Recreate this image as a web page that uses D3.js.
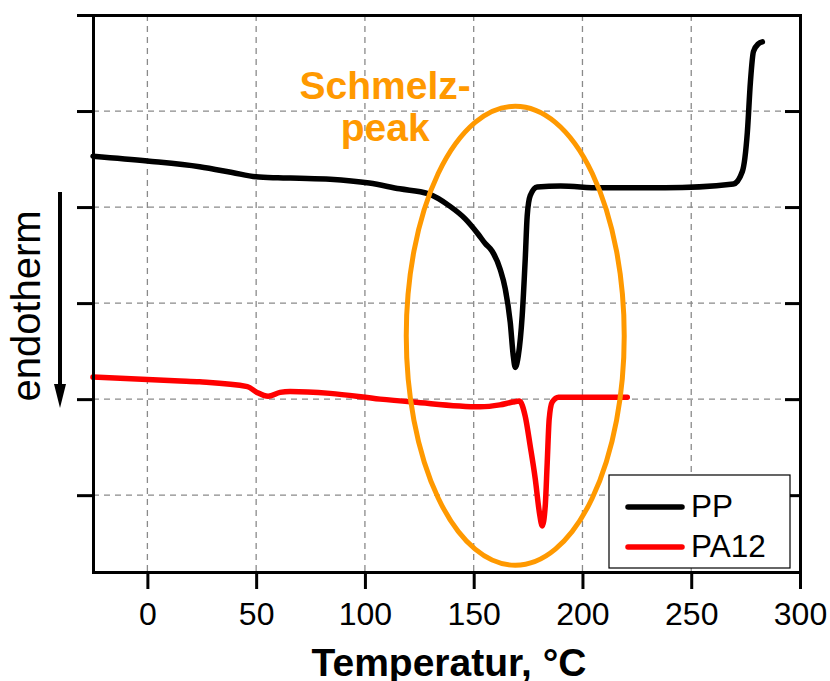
<!DOCTYPE html>
<meta charset="utf-8">
<script src="https://d3js.org/d3.v7.min.js"></script>
<style>
body { margin: 0; background: #fff; }
svg { font-family: "Liberation Sans", Arial, sans-serif; }
.grid line { stroke: #8a8a8a; stroke-width: 1.3; stroke-dasharray: 6,5; }
.axis path, .axis line { stroke: #000; stroke-width: 3; }
</style>
<body>
<script>
// PP curve (black)
var ppT = [-25, 0, 24, 39, 50, 60, 70, 84, 102, 116, 129, 139, 146, 152, 155.3, 158.5, 162.2, 164.5, 166.8, 168.2, 169.1, 170.5, 172.3, 173.7, 174.6, 176, 179.2, 190, 208, 238, 269.4, 273.5, 275.8, 277.2, 278.6, 280.9, 282.7];
var ppV = [4.53, 4.48, 4.42, 4.36, 4.315, 4.305, 4.30, 4.29, 4.25, 4.19, 4.14, 4.01, 3.88, 3.72, 3.62, 3.54, 3.35, 3.15, 2.80, 2.45, 2.33, 2.45, 2.87, 3.46, 3.91, 4.12, 4.21, 4.22, 4.20, 4.20, 4.24, 4.37, 4.78, 5.30, 5.62, 5.70, 5.72];
// PA12 curve (red)
var paT = [-25, 15, 24, 46, 50.4, 55.5, 61, 65.6, 84, 107, 122, 153, 162, 168, 171, 173.7, 176, 178.3, 180.2, 181.5, 182.9, 183.8, 184.7, 186.1, 189, 199, 220.6];
var paV = [2.23, 2.19, 2.18, 2.13, 2.07, 2.03, 2.07, 2.08, 2.06, 2.00, 1.97, 1.92, 1.94, 1.97, 1.98, 1.82, 1.51, 1.17, 0.82, 0.68, 0.89, 1.34, 1.79, 1.97, 2.02, 2.02, 2.02];

var xTicks = [0, 50, 100, 150, 200, 250, 300];
var xMinor = [-25, 25, 75, 125, 175, 225, 275];
var yTicks = [1, 2, 3, 4, 5, 6];
var yMinor = [0.5, 1.5, 2.5, 3.5, 4.5, 5.5];
var seriesNames = ["PP", "PA12"];
var seriesColors = ["#000000", "#ff0000"];

var W = 830, H = 681;
var svg = d3.select("body").append("svg").attr("width", W).attr("height", H);

var x = d3.scaleLinear().domain([-25, 300]).range([93, 800]);
var y = d3.scaleLinear().domain([0.2, 6]).range([572, 15]);

// grid
var grid = svg.append("g").attr("class", "grid");
grid.selectAll(".gx").data(xTicks.slice(0, -1)).enter().append("line")
    .attr("x1", d => x(d)).attr("x2", d => x(d))
    .attr("y1", y(6)).attr("y2", y(0.2));
grid.selectAll(".gy").data(yTicks.slice(0, -1)).enter().append("line")
    .attr("x1", x(-25)).attr("x2", x(300))
    .attr("y1", d => y(d)).attr("y2", d => y(d));

// curves
var line = d3.line().x(d => x(d[0])).y(d => y(d[1])).curve(d3.curveMonotoneX);
var series = [d3.zip(ppT, ppV), d3.zip(paT, paV)];
svg.selectAll(".curve").data(series).enter().append("path")
    .attr("d", line)
    .attr("fill", "none")
    .attr("stroke", (d, i) => seriesColors[i])
    .attr("stroke-width", 5.5)
    .attr("stroke-linejoin", "round")
    .attr("stroke-linecap", "round");

// Schmelzpeak ellipse
svg.append("ellipse")
    .attr("cx", x(169.1)).attr("cy", y(2.66))
    .attr("rx", x(50.1) - x(0)).attr("ry", y(0) - y(2.39))
    .attr("fill", "none").attr("stroke", "#ff9900").attr("stroke-width", 5);

svg.append("text").attr("x", x(109.3)).attr("y", y(5.13))
    .attr("text-anchor", "middle").attr("font-size", 39).attr("font-weight", "bold")
    .attr("fill", "#ff9900").text("Schmelz-");
svg.append("text").attr("x", x(109.3)).attr("y", y(4.69))
    .attr("text-anchor", "middle").attr("font-size", 39).attr("font-weight", "bold")
    .attr("fill", "#ff9900").text("peak");

// axes
var gB = svg.append("g").attr("class", "axis").attr("transform", "translate(0," + y(0.2) + ")");
gB.call(d3.axisBottom(x).tickValues(xMinor).tickSize(10).tickFormat("").tickSizeOuter(0));
gB.call(d3.axisBottom(x).tickValues(xTicks).tickSize(17).tickSizeOuter(0).tickFormat(d3.format("d")))
  .selectAll("text").attr("font-size", 32).attr("dy", "1.03em").attr("fill", "#000");

var gT = svg.append("g").attr("class", "axis").attr("transform", "translate(0," + y(6) + ")");
gT.call(d3.axisTop(x).tickValues([]).tickSizeOuter(0));

var gL = svg.append("g").attr("class", "axis").attr("transform", "translate(" + x(-25) + ",0)");
gL.call(d3.axisLeft(y).tickValues(yMinor).tickSize(9).tickFormat("").tickSizeOuter(0));
gL.call(d3.axisLeft(y).tickValues(yTicks).tickSize(16).tickFormat("").tickSizeOuter(0));

var gR = svg.append("g").attr("class", "axis").attr("transform", "translate(" + x(300) + ",0)");
gR.call(d3.axisRight(y).tickValues(yMinor).tickSize(-8).tickFormat("").tickSizeOuter(0));
gR.call(d3.axisRight(y).tickValues(yTicks).tickSize(-15).tickFormat("").tickSizeOuter(0));
svg.selectAll(".axis .domain").attr("stroke-linecap", "square");

// axis titles
svg.append("text").attr("x", 449).attr("y", 676)
    .attr("text-anchor", "middle").attr("font-size", 39).attr("font-weight", "bold")
    .text("Temperatur, °C");
svg.append("text").attr("transform", "translate(40,306) rotate(-90)")
    .attr("text-anchor", "middle").attr("font-size", 40)
    .text("endotherm");

// endotherm arrow
svg.append("line").attr("x1", 60).attr("x2", 60).attr("y1", 192).attr("y2", 390)
    .attr("stroke", "#000").attr("stroke-width", 4);
svg.append("path").attr("d", "M54,384 L66,384 L60,408 Z").attr("fill", "#000");

// legend
var lg = svg.append("g");
lg.append("rect").attr("x", 609).attr("y", 475).attr("width", 181).attr("height", 93)
    .attr("fill", "#fff").attr("stroke", "#000").attr("stroke-width", 1.2);
var items = lg.selectAll(".item").data(seriesNames).enter().append("g")
    .attr("transform", (d, i) => "translate(0," + (507 + i * 40) + ")");
items.append("line").attr("x1", 628).attr("x2", 682)
    .attr("stroke", (d, i) => seriesColors[i]).attr("stroke-width", 5.5).attr("stroke-linecap", "round");
items.append("text").attr("x", 691).attr("y", 10).attr("font-size", 31.5).text(d => d);
</script>
</body>
